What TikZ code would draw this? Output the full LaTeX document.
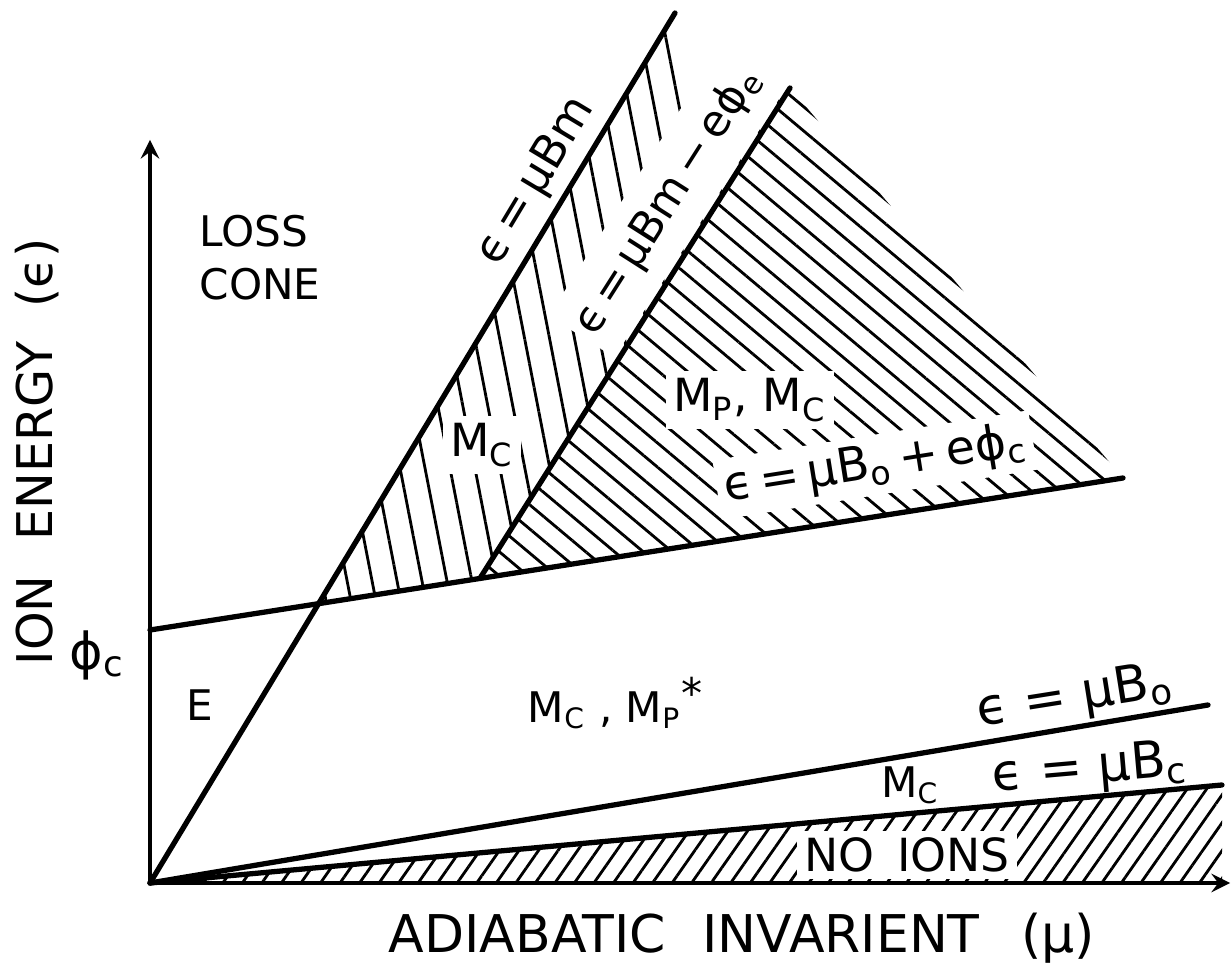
\documentclass[tikz,border=0pt]{standalone}
\usepackage{fontspec}
\setmainfont{DejaVu Sans}
\usetikzlibrary{calc,patterns.meta}

\tikzset{
  bound/.style={line width=1.5pt,line cap=round},
  lbl/.style={font=\fontsize{12}{15}\selectfont,inner sep=1pt},
  eqn/.style={font=\fontsize{14.5}{16}\selectfont,inner sep=1pt},
  mask/.style={fill=white,inner sep=2pt},
}

\begin{document}
\begin{tikzpicture}
    \useasboundingbox (-1.50,-0.95) rectangle (10.82,8.83);

    % Corner points of the regions
    \coordinate (O) at (0,0);
    \coordinate (Ytop) at (0,7.43);
    \coordinate (Xend) at (10.80,0);
    \coordinate (Apex) at (5.25,8.70);
    \coordinate (Ctop) at (0,2.53);
    \coordinate (Cend) at (9.73,4.05);
    \coordinate (Ebot) at ($(Ctop)!0.339!(Cend)$);
    \coordinate (Etop) at (6.40,7.95);
    \coordinate (Bandtip) at (5.50,7.55);
    \coordinate (Cross) at (intersection of O--Apex and Ctop--Cend);
    \coordinate (Bo) at (10.58,1.78);
    \coordinate (Bc) at (10.72,0.98);
    \coordinate (Bcfoot) at (10.72,0);

    % Hatched regions
    \fill[pattern={Lines[angle=-79,distance=0.245cm,line width=0.8pt]}] (Cross) -- (Apex) -- (Bandtip) -- (Etop) -- (Ebot) -- cycle;
    \fill[pattern={Lines[angle=-40,distance=0.185cm,line width=0.8pt]}] (Ebot) -- (Etop) -- (Cend) -- cycle;
    \fill[pattern={Lines[angle=55,distance=0.16cm,line width=0.8pt]}] (O) -- (Bc) -- (Bcfoot) -- cycle;

    % Labels that break the hatching
    \node[font=\fontsize{12.5}{14}\selectfont,mask,inner ysep=5pt,rotate=57.5] (lEphi) at (5.18,6.82) {ϵ\,=\,μBm\,−\,eϕ\textsubscript{e}};
    \node[lbl,mask,font=\fontsize{13}{15}\selectfont] (lMcband) at (3.32,4.38) {M\textsubscript{C}};
    \node[lbl,mask,font=\fontsize{13}{15}\selectfont] (lMpMc) at (6.00,4.83) {M\textsubscript{P}, M\textsubscript{C}};
    \node[font=\fontsize{13.5}{15}\selectfont,mask,rotate=9] (lBoPhi) at (7.25,4.18) {ϵ\,=\,μB\textsubscript{o}\,+\,eϕ\textsubscript{c}};
    \node[lbl,mask,font=\fontsize{13}{15}\selectfont] (lNoIons) at (7.57,0.28) {NO\hspace{0.5em}IONS};

    % Boundary lines
    \draw[bound] (O) -- (Apex);
    \draw[bound] (Ebot) -- (Etop);
    \draw[bound] (Ctop) -- (Cend);
    \draw[bound] (O) -- (Bo);
    \draw[bound] (O) -- (Bc);

    % Axes
    \draw[line width=1.3pt,-stealth] (O) -- (Ytop);
    \draw[line width=1.3pt,-stealth] (O) -- (Xend);

    % Other labels
    \node[lbl,align=left] (lLoss) at (1.10,6.25) {LOSS\\CONE};
    \node[lbl] (lE) at (0.50,1.78) {E};
    \node[lbl] (lMcMp) at (4.65,1.80) {M\textsubscript{C} , M\textsubscript{P}\raisebox{0.6ex}{*}};
    \node[font=\fontsize{13}{15}\selectfont,rotate=59] (lBm) at (3.86,7.02) {ϵ\,=\,μBm};
    \node[eqn,rotate=9] (lBo) at (9.25,1.85) {ϵ = μB\textsubscript{o}};
    \node[lbl] (lMcLow) at (7.60,0.98) {M\textsubscript{C}};
    \node[eqn,rotate=5] (lBc) at (9.40,1.13) {ϵ = μB\textsubscript{c}};
    \node[eqn] (lPhic) at (-0.53,2.28) {ϕ\textsubscript{c}};
    \node[font=\fontsize{14.8}{18}\selectfont] (xlabel) at (5.92,-0.55) {ADIABATIC\hspace{0.7em}INVARIENT\hspace{0.8em}(μ)};
    \node[font=\fontsize{14}{16}\selectfont,rotate=90] (ylabel) at (-1.13,4.31) {ION\hspace{0.7em}ENERGY\hspace{0.7em}(ϵ)};

\end{tikzpicture}
\end{document}
